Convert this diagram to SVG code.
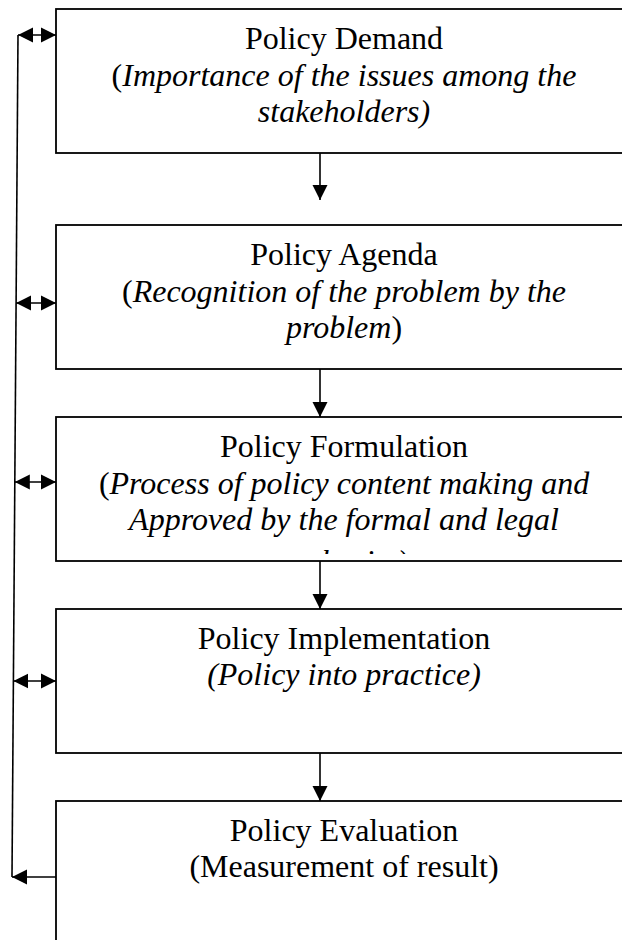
<svg xmlns="http://www.w3.org/2000/svg" width="622" height="940" viewBox="0 0 622 940">
<style>
.box{fill:#fff;stroke:#000;stroke-width:1.8}
.t{font-family:"Liberation Serif","Times New Roman",serif;font-size:32px;fill:#000;text-anchor:middle}
.i{font-style:italic}
.c{stroke:#000;stroke-width:1.6;fill:none}
</style>
<defs>
<marker id="ah" markerUnits="userSpaceOnUse" markerWidth="16" markerHeight="16" viewBox="0 0 16 16" refX="15" refY="8" orient="auto-start-reverse">
<path d="M0,0.5 L15,8 L0,15.5 Z" fill="#000"/>
</marker>
<clipPath id="clip3"><rect x="56" y="417" width="600" height="137"/></clipPath>
</defs>
<rect width="622" height="940" fill="#fff"/>
<g id="node-demand">
<rect class="box" x="56" y="9" width="600" height="144"/>
<text class="t" x="344" y="49">Policy Demand</text>
<text class="t" x="344" y="86">(<tspan class="i">Importance of the issues among the</tspan></text>
<text class="t i" x="344" y="122">stakeholders)</text>
</g>
<g id="node-agenda">
<rect class="box" x="56" y="225" width="600" height="144"/>
<text class="t" x="344" y="265">Policy Agenda</text>
<text class="t" x="344" y="302">(<tspan class="i">Recognition of the problem by the</tspan></text>
<text class="t" x="344" y="338"><tspan class="i">problem</tspan>)</text>
</g>
<g id="node-formulation">
<rect class="box" x="56" y="417" width="600" height="144"/>
<text class="t" x="344" y="457">Policy Formulation</text>
<text class="t" x="344" y="494">(<tspan class="i">Process of policy content making and</tspan></text>
<text class="t i" x="344" y="530">Approved by the formal and legal</text>
<text class="t i" x="344" y="572" clip-path="url(#clip3)">authority)</text>
</g>
<g id="node-implementation">
<rect class="box" x="56" y="609" width="600" height="144"/>
<text class="t" x="344" y="649">Policy Implementation</text>
<text class="t i" x="344" y="685">(Policy into practice)</text>
</g>
<g id="node-evaluation">
<rect class="box" x="56" y="801" width="600" height="160"/>
<text class="t" x="344" y="841">Policy Evaluation</text>
<text class="t" x="344" y="877">(Measurement of result)</text>
</g>
<g id="connectors">
<line class="c" x1="320" y1="153" x2="320" y2="200" marker-end="url(#ah)"/>
<line class="c" x1="320" y1="369" x2="320" y2="417" marker-end="url(#ah)"/>
<line class="c" x1="320" y1="561" x2="320" y2="609" marker-end="url(#ah)"/>
<line class="c" x1="320" y1="753" x2="320" y2="801" marker-end="url(#ah)"/>
<line class="c" x1="18" y1="35" x2="12" y2="877"/>
<line class="c" x1="18" y1="35" x2="56" y2="35" marker-start="url(#ah)" marker-end="url(#ah)"/>
<line class="c" x1="16.1" y1="303" x2="56" y2="303" marker-start="url(#ah)" marker-end="url(#ah)"/>
<line class="c" x1="14.8" y1="482" x2="56" y2="482" marker-start="url(#ah)" marker-end="url(#ah)"/>
<line class="c" x1="13.4" y1="681" x2="56" y2="681" marker-start="url(#ah)" marker-end="url(#ah)"/>
<line class="c" x1="56" y1="877" x2="12" y2="877" marker-end="url(#ah)"/>
</g>
</svg>
